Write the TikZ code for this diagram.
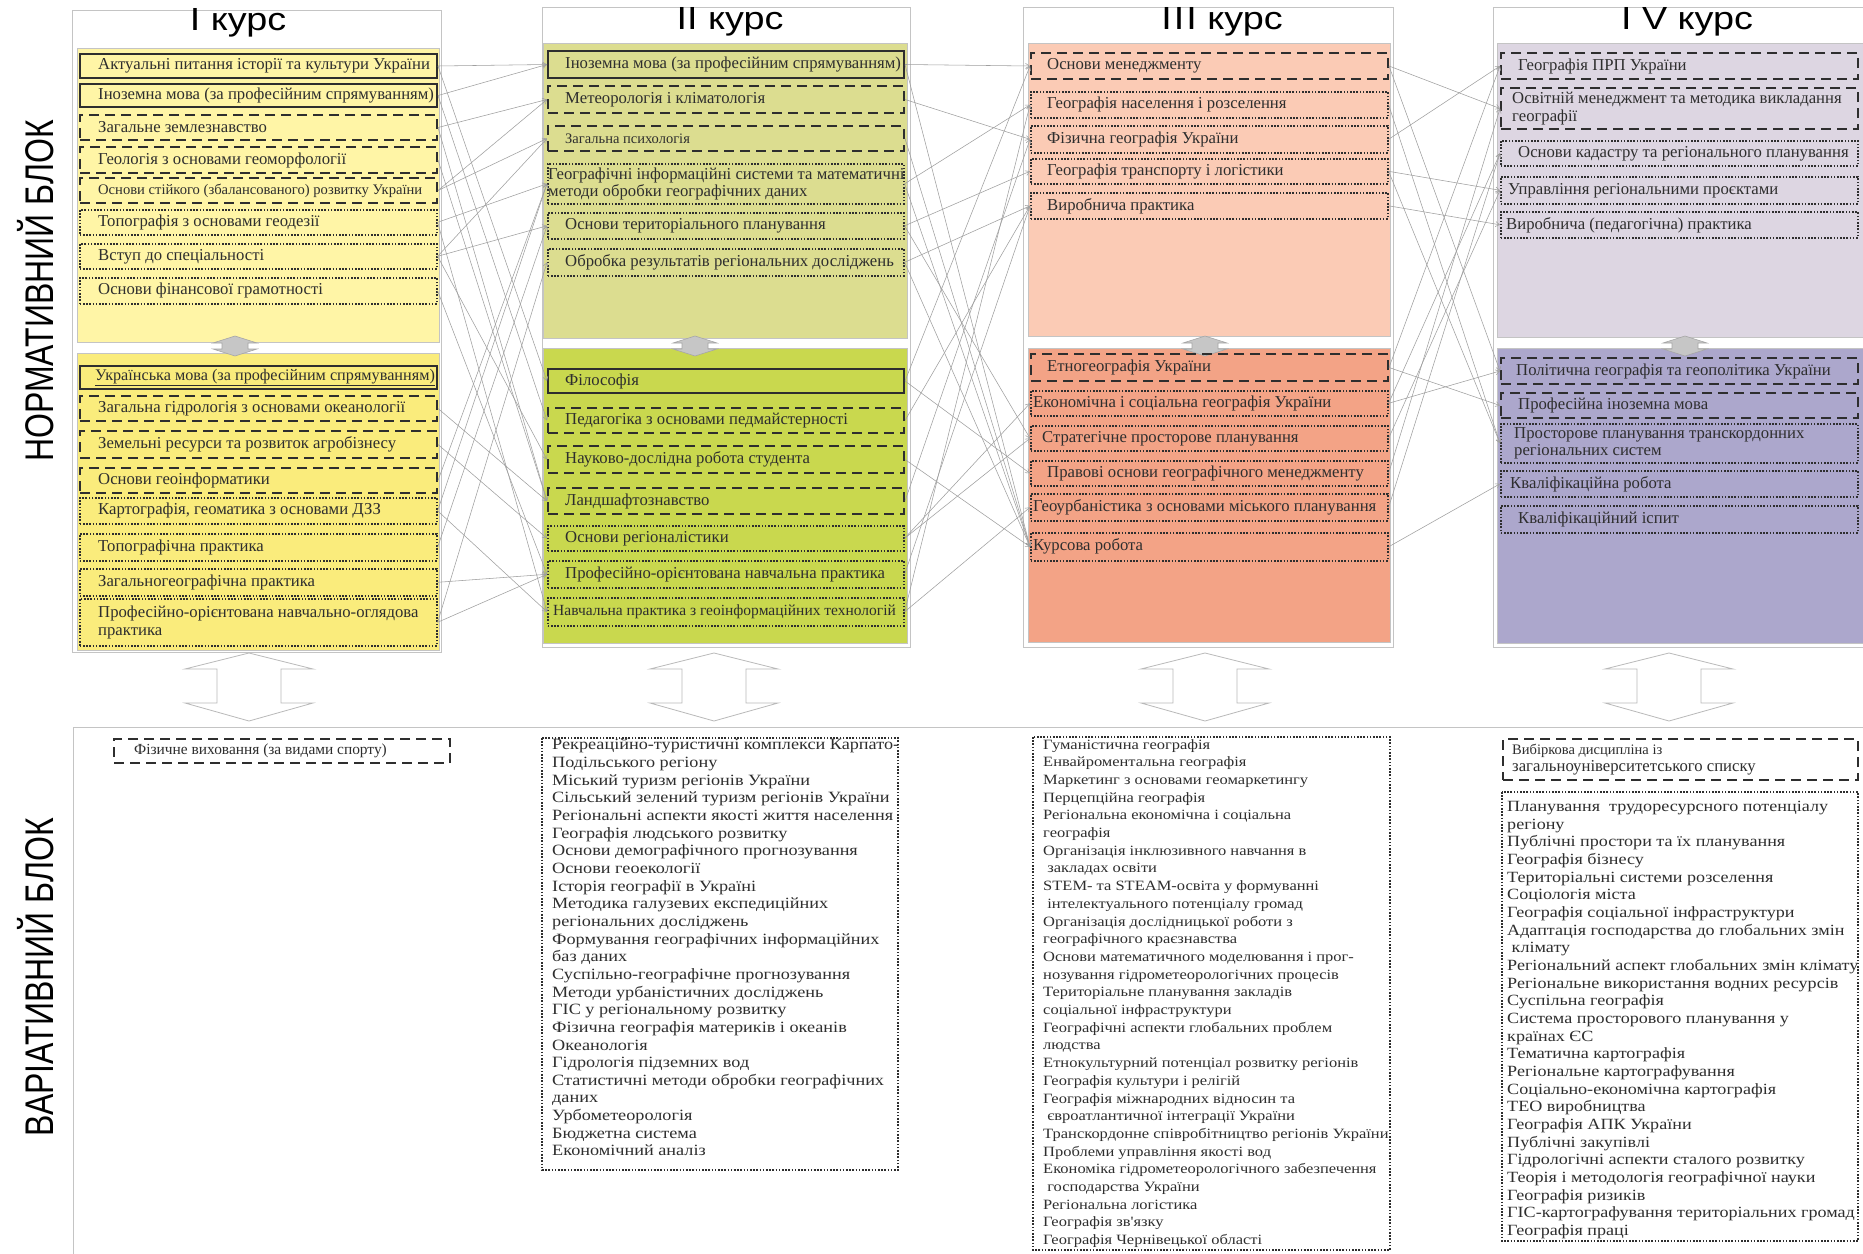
\documentclass[tikz,border=0pt]{standalone}
\usepackage{fontspec}
\setmainfont{Liberation Serif}
\newfontfamily\titlefont[FakeStretch=1.18]{Liberation Sans}
\newfontfamily\sidefont[FakeStretch=0.80]{Liberation Sans}
\newfontfamily\listfont[FakeStretch=1.16]{Liberation Serif}
\usetikzlibrary{arrows.meta,calc}
\definecolor{yA}{HTML}{FFF5A6}
\definecolor{yB}{HTML}{FAEC7C}
\definecolor{gA}{HTML}{DCDD90}
\definecolor{gB}{HTML}{C9D84E}
\definecolor{sA}{HTML}{FBCBB5}
\definecolor{sB}{HTML}{F3A386}
\definecolor{lA}{HTML}{DDD6E2}
\definecolor{lB}{HTML}{ACA7CC}
\definecolor{frame}{HTML}{C4C4C4}
\definecolor{ink}{HTML}{2E2E2E}
\newcommand\subj[8]{%
  \node[box,#6,minimum width={#4-#2},minimum height={#5-#3},anchor=north west] (#1) at (#2,#3) {};
  \node[itemtext,anchor=west] (#1t) at ([xshift=#7pt]#1.west) {#8};
}
\begin{document}
\begin{tikzpicture}[x=1pt,y=-1pt,
  box/.style={draw=ink,inner sep=0pt},
  solidbox/.style={line width=2pt},
  dashbox/.style={line width=2pt,dash pattern=on 10pt off 6pt},
  dotbox/.style={line width=1.6pt,dash pattern=on 1.6pt off 1.6pt},
  itemtext/.style={inner sep=0pt,text=ink,align=left,font=\fontsize{16.7}{17.5}\selectfont},
  listtext/.style={inner sep=0pt,text=ink,align=left,anchor=north west},
  panel/.style={draw=frame,line width=0.8pt},
  outer/.style={draw=frame,line width=1pt,fill=white},
  link/.style={draw=gray!75,line width=0.55pt,-{Straight Barb[length=4pt,width=5pt]}},
  bigarrow/.style={draw=gray!55,line width=0.8pt,fill=white},
  smallarrow/.style={draw=gray!70,line width=0.6pt,fill=gray!45},
  title/.style={font=\titlefont\fontsize{32}{34}\selectfont,text=black,inner sep=0pt},
  side/.style={font=\sidefont\fontsize{40}{42}\selectfont,text=black,inner sep=0pt,rotate=90}]
\useasboundingbox (0,0) rectangle (1863,1253);
\fill[white] (0,0) rectangle (1863,1253);

% side labels
\node[side] (norm) at (36,291) {НОРМАТИВНИЙ БЛОК};
\node[side] (var) at (36,977) {ВАРІАТИВНИЙ БЛОК};

% outer frames
\draw[outer] (72,10) rectangle (441,652);
\draw[outer] (542,7) rectangle (910,647);
\draw[outer] (1023,7) rectangle (1393,647);
\draw[outer] (1493,7) rectangle (1875,647);
% variative frame
\draw[frame,line width=1pt] (1875,727) -- (73,727) -- (73,1260);

% titles
\node[title] (t1) at (238,23) {I курс};
\node[title] (t2) at (730,22) {II курс};
\node[title] (t3) at (1222,22) {I\kern2ptI\kern2ptI курс};
\node[title] (t4) at (1687,22) {I V курс};

% panels
\fill[yA,panel] (77,48) rectangle (439,342);
\fill[yB,panel] (77,353) rectangle (439,650);
\fill[gA,panel] (543,43) rectangle (907,338);
\fill[gB,panel] (543,348) rectangle (907,643);
\fill[sA,panel] (1028,43) rectangle (1390,336);
\fill[sB,panel] (1028,348) rectangle (1390,642);
\fill[lA,panel] (1497,43) rectangle (1875,337);
\fill[lB,panel] (1497,348) rectangle (1875,643);

% small gray double arrows between panels
\foreach \cx in {235,695,1205,1685}{
  \filldraw[smallarrow] (\cx,336) -- (\cx+22,343) -- (\cx+13,343) -- (\cx+13,349) -- (\cx+22,349)
     -- (\cx,356) -- (\cx-22,349) -- (\cx-13,349) -- (\cx-13,343) -- (\cx-22,343) -- cycle;
}
% big hollow double arrows
\foreach \cx in {249,714,1205,1669}{
  \filldraw[bigarrow] (\cx,653) -- (\cx+64,669) -- (\cx+32,669) -- (\cx+32,703) -- (\cx+64,703)
     -- (\cx,721) -- (\cx-64,703) -- (\cx-32,703) -- (\cx-32,669) -- (\cx-64,669) -- cycle;
}

% ---------- Column I ----------
\subj{a1}{79}{53}{436}{77}{solidbox}{19}{Актуальні питання історії та культури України}
\subj{a2}{79}{83}{436}{106}{solidbox}{19}{Іноземна мова (за професійним спрямуванням)}
\subj{a3}{79}{114}{436}{139}{dashbox}{19}{Загальне землезнавство}
\subj{a4}{79}{146}{436}{172}{dashbox}{19}{Геологія з основами геоморфології}
\subj{a5}{79}{177}{436}{202}{dashbox}{19}{\fontsize{14.6}{15}\selectfont Основи стійкого (збалансованого) розвитку України}
\subj{a6}{79}{209}{436}{234}{dotbox}{19}{Топографія з основами геодезії}
\subj{a7}{79}{243}{436}{268}{dotbox}{19}{Вступ до спеціальності}
\subj{a8}{79}{277}{436}{303}{dotbox}{19}{Основи фінансової грамотності}
\subj{a9}{79}{365}{436}{388}{solidbox}{16}{\fontsize{16.2}{17}\selectfont\underline{Українська мова (за професійним спрямуванням)}}
\subj{a10}{79}{395}{436}{420}{dashbox}{19}{Загальна гідрологія з основами океанології}
\subj{a11}{79}{430}{436}{457}{dashbox}{19}{Земельні ресурси та розвиток агробізнесу}
\subj{a12}{79}{467}{436}{492}{dashbox}{19}{Основи геоінформатики}
\subj{a13}{79}{497}{436}{523}{dotbox}{19}{Картографія, геоматика з основами ДЗЗ}
\subj{a14}{79}{533}{436}{560}{dotbox}{19}{Топографічна практика}
\subj{a15}{79}{568}{436}{595}{dotbox}{19}{Загальногеографічна практика}
\subj{a16}{79}{598}{436}{645}{dotbox}{19}{Професійно-орієнтована навчально-оглядова\\практика}

% ---------- Column II ----------
\subj{b1}{547}{50}{903}{77}{solidbox}{18}{Іноземна мова (за професійним спрямуванням)}
\subj{b2}{547}{85}{903}{112}{dashbox}{18}{Метеорологія і кліматологія}
\subj{b3}{547}{125}{903}{150}{dashbox}{18}{\fontsize{14.5}{15}\selectfont Загальна психологія}
\subj{b4}{547}{163}{903}{203}{dotbox}{1}{Географічні інформаційні системи та математичні\\методи обробки географічних даних}
\subj{b5}{547}{212}{903}{238}{dotbox}{18}{Основи територіального планування}
\subj{b6}{547}{248}{903}{275}{dotbox}{18}{Обробка результатів регіональних досліджень}
\subj{b7}{547}{368}{903}{392}{solidbox}{18}{Філософія}
\subj{b8}{547}{407}{903}{432}{dashbox}{18}{Педагогіка з основами педмайстерності}
\subj{b9}{547}{445}{903}{472}{dashbox}{18}{Науково-дослідна робота студента}
\subj{b10}{547}{487}{903}{513}{dashbox}{18}{Ландшафтознавство}
\subj{b11}{547}{525}{903}{550}{dotbox}{18}{Основи регіоналістики}
\subj{b12}{547}{560}{903}{587}{dotbox}{18}{Професійно-орієнтована навчальна практика}
\subj{b13}{547}{597}{903}{625}{dotbox}{6}{\fontsize{15.5}{16}\selectfont Навчальна практика з геоінформаційних технологій}

% ---------- Column III ----------
\subj{c1}{1030}{52}{1387}{78}{dashbox}{17}{Основи менеджменту}
\subj{c2}{1030}{91}{1387}{117}{dotbox}{17}{Географія населення і розселення}
\subj{c3}{1030}{125}{1387}{152}{dotbox}{17}{Фізична географія України}
\subj{c4}{1030}{158}{1387}{183}{dotbox}{17}{Географія транспорту і логістики}
\subj{c5}{1030}{192}{1387}{218}{dotbox}{17}{Виробнича практика}
\subj{c6}{1030}{353}{1387}{380}{dashbox}{17}{Етногеографія України}
\subj{c7}{1030}{390}{1387}{415}{dotbox}{3}{Економічна і соціальна географія України}
\subj{c8}{1030}{425}{1387}{450}{dotbox}{12}{Стратегічне просторове планування}
\subj{c9}{1030}{460}{1387}{485}{dotbox}{17}{Правові основи географічного менеджменту}
\subj{c10}{1030}{493}{1387}{520}{dotbox}{3}{Геоурбаністика з основами міського планування}
\subj{c11}{1030}{532}{1387}{560}{dotbox}{3}{Курсова робота}

% ---------- Column IV ----------
\subj{d1}{1500}{52}{1857}{78}{dashbox}{18}{Географія ПРП України}
\subj{d2}{1500}{87}{1857}{128}{dashbox}{12}{Освітній менеджмент та методика викладання\\ географії}
\subj{d3}{1500}{140}{1857}{165}{dotbox}{18}{Основи кадастру та регіонального планування}
\subj{d4}{1500}{176}{1857}{203}{dotbox}{8}{Управління регіональними проєктами}
\subj{d5}{1500}{211}{1857}{237}{dotbox}{6}{Виробнича (педагогічна) практика}
\subj{d6}{1500}{357}{1857}{383}{dashbox}{16}{Політична географія та геополітика України}
\subj{d7}{1500}{392}{1857}{417}{dashbox}{18}{Професійна іноземна мова}
\subj{d8}{1500}{423}{1857}{462}{dotbox}{14}{Просторове планування транскордонних\\регіональних систем}
\subj{d9}{1500}{470}{1857}{496}{dotbox}{10}{Кваліфікаційна робота}
\subj{d10}{1500}{505}{1857}{532}{dotbox}{18}{Кваліфікаційний іспит}

% ---------- connectors I -> II ----------
\foreach \s/\t in {a1/b1,a1/b7,a2/b1,a2/b8,a3/b2,a3/b10,a4/b10,a5/b2,a5/b3,a6/b4,a6/b13,
  a7/b3,a7/b5,a7/b9,a8/b12,a10/b10,a11/b11,a12/b4,a13/b4,a13/b13,a14/b5,a15/b12,a16/b12,a16/b6}
  \draw[link] (\s.east) -- (\t.west);
% ---------- connectors II -> III ----------
\foreach \s/\t in {b1/c1,b1/c11,b2/c3,b3/c11,b4/c2,b4/c11,b5/c4,b5/c8,b6/c5,b6/c11,
  b7/c1,b7/c9,b8/c5,b9/c11,b10/c3,b11/c7,b11/c8,b12/c5,b13/c10,b13/c2}
  \draw[link] (\s.east) -- (\t.west);
% ---------- connectors III -> IV ----------
\foreach \s/\t in {c1/d2,c1/d6,c2/d8,c3/d1,c4/d4,c4/d8,c5/d5,c6/d1,c7/d3,c7/d6,
  c8/d4,c9/d2,c10/d3,c11/d9,c6/d7}
  \draw[link] (\s.east) -- (\t.west);

% ---------- Variative block ----------
\subj{e1}{113}{738}{449}{762}{dashbox}{21}{\fontsize{15.4}{16}\selectfont Фізичне виховання (за видами спорту)}

\draw[box,dotbox] (542,738) rectangle (898,1170);
\node[listtext,font=\listfont\fontsize{15.7}{17.65}\selectfont] (v2) at (552,739) {Рекреаційно-туристичні комплекси Карпато-\\
Подільського регіону\\
Міський туризм регіонів України\\
Сільський зелений туризм регіонів України\\
Регіональні аспекти якості життя населення\\
Географія людського розвитку\\
Основи демографічного прогнозування\\
Основи геоекології\\
Історія географії в Україні\\
Методика галузевих експедиційних\\
регіональних досліджень\\
Формування географічних інформаційних\\
баз даних\\
Суспільно-географічне прогнозування\\
Методи урбаністичних досліджень\\
ГІС у регіональному розвитку\\
Фізична географія материків і океанів\\
Океанологія\\
Гідрологія підземних вод\\
Статистичні методи обробки географічних\\
даних\\
Урбометеорологія\\
Бюджетна система\\
Економічний аналіз};

\draw[box,dotbox] (1033,737) rectangle (1390,1250);
\node[listtext,font=\listfont\fontsize{14.2}{17.7}\selectfont] (v3) at (1043,739) {Гуманістична географія\\
Енвайроментальна географія\\
Маркетинг з основами геомаркетингу\\
Перцепційна географія\\
Регіональна економічна і соціальна\\
географія\\
Організація інклюзивного навчання в\\
\ закладах освіти\\
STEM- та STEAM-освіта у формуванні\\
\ інтелектуального потенціалу громад\\
Організація дослідницької роботи з\\
географічного краєзнавства\\
Основи математичного моделювання і прог-\\
нозування гідрометеорологічних процесів\\
Територіальне планування закладів\\
соціальної інфраструктури\\
Географічні аспекти глобальних проблем\\
людства\\
Етнокультурний потенціал розвитку регіонів\\
Географія культури і релігій\\
Географія міжнародних відносин та\\
\ євроатлантичної інтеграції України\\
Транскордонне співробітництво регіонів України\\
Проблеми управління якості вод\\
Економіка гідрометеорологічного забезпечення\\
\ господарства України\\
Регіональна логістика\\
Географія зв'язку\\
Географія Чернівецької області};

\subj{e4}{1502}{738}{1857}{779}{dashbox}{10}{\fontsize{14.5}{18}\selectfont Вибіркова дисципліна із\\загальноуніверситетського списку}
\draw[box,dotbox] (1502,792) rectangle (1858,1241);
\node[listtext,font=\listfont\fontsize{15.6}{17.67}\selectfont] (v4) at (1507,801) {Планування\ \ трудоресурсного потенціалу\\
регіону\\
Публічні простори та їх планування\\
Географія бізнесу\\
Територіальні системи розселення\\
Соціологія міста\\
Географія соціальної інфраструктури\\
Адаптація господарства до глобальних змін\\
\ клімату\\
Регіональний аспект глобальних змін клімату\\
Регіональне використання водних ресурсів\\
Суспільна географія\\
Система просторового планування у\\
країнах ЄС\\
Тематична картографія\\
Регіональне картографування\\
Соціально-економічна картографія\\
ТЕО виробництва\\
Географія АПК України\\
Публічні закупівлі\\
Гідрологічні аспекти сталого розвитку\\
Теорія і методологія географічної науки\\
Географія ризиків\\
ГІС-картографування територіальних громад\\
Географія праці};
\end{tikzpicture}
\end{document}
